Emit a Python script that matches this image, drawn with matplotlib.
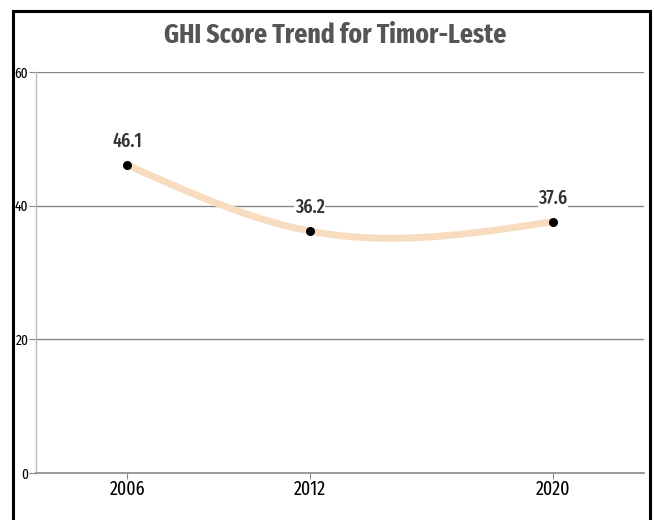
import numpy as np
import matplotlib.pyplot as plt
from matplotlib.patches import Rectangle

# данные
years = [2006, 2012, 2020]
scores = [46.1, 36.2, 37.6]
y_ticks = [0, 20, 40, 60]

FONT = ['Fira Sans Extra Condensed', 'PT Sans Narrow', 'DejaVu Sans']


# натуральный кубический сплайн для сглаженной линии
def natural_spline(x, y, n=200):
    x = np.asarray(x, float)
    y = np.asarray(y, float)
    k = len(x)
    h = np.diff(x)
    A = np.zeros((k, k))
    b = np.zeros(k)
    A[0, 0] = A[-1, -1] = 1
    for i in range(1, k - 1):
        A[i, i - 1] = h[i - 1]
        A[i, i] = 2 * (h[i - 1] + h[i])
        A[i, i + 1] = h[i]
        b[i] = 6 * ((y[i + 1] - y[i]) / h[i] - (y[i] - y[i - 1]) / h[i - 1])
    m = np.linalg.solve(A, b)
    xs = np.linspace(x[0], x[-1], n)
    ys = np.empty_like(xs)
    for j, t in enumerate(xs):
        i = min(np.searchsorted(x, t, side='right') - 1, k - 2)
        a, c = x[i], x[i + 1]
        hh = c - a
        ys[j] = (m[i] * (c - t) ** 3 / (6 * hh) + m[i + 1] * (t - a) ** 3 / (6 * hh)
                 + (y[i] / hh - m[i] * hh / 6) * (c - t)
                 + (y[i + 1] / hh - m[i + 1] * hh / 6) * (t - a))
    return xs, ys


fig = plt.figure(figsize=(6.54, 5.2), dpi=100)
W, H = 654, 520
ax = fig.add_axes([36 / W, (H - 473) / H, (644 - 36) / W, (473 - 72) / H])

# рамка вокруг картинки
fig.patches.append(Rectangle((13 / W, -0.02), (650 - 13) / W, (H - 11) / H + 0.02,
                             transform=fig.transFigure, fill=False,
                             edgecolor='black', linewidth=2.2, zorder=0))

ax.set_xlim(2003, 2023)
ax.set_ylim(0, 60)

for v in y_ticks[1:]:
    ax.axhline(v, color='#888888', linewidth=1, zorder=1)

xs, ys = natural_spline(years, scores)
ax.plot(xs, ys, color='#f7dcc0', linewidth=5, solid_capstyle='round', zorder=2)
ax.scatter(years, scores, color='black', s=30, zorder=3)

for x, y in zip(years, scores):
    ax.annotate(f'{y}', (x, y), xytext=(0, 10), textcoords='offset points',
                ha='center', va='bottom', fontsize=14, fontweight='medium',
                color='#333333', family=FONT, zorder=4,
                bbox=dict(facecolor='white', edgecolor='none', pad=0.3))

ax.set_xticks(years)
ax.set_xticklabels([str(y) for y in years], family=FONT, fontsize=14, color='black')
ax.set_yticks(y_ticks)
ax.set_yticklabels([str(v) for v in y_ticks], family=FONT, fontsize=10.5, color='black')
ax.tick_params(axis='x', length=4, width=0.8, color='#888888', pad=1)
ax.tick_params(axis='y', length=5, width=0.8, color='#888888', pad=0.5)

for s in ['top', 'right']:
    ax.spines[s].set_visible(False)
ax.spines['left'].set_color('#bbbbbb')
ax.spines['bottom'].set_color('#888888')
ax.spines['left'].set_linewidth(1)
ax.spines['bottom'].set_linewidth(1.2)

fig.text(335 / W, 1 - 35 / H, 'GHI Score Trend for Timor-Leste', ha='center', va='center',
         fontsize=20, fontweight='bold', color='#555555', family=FONT)

fig.savefig('out.png', dpi=100)
